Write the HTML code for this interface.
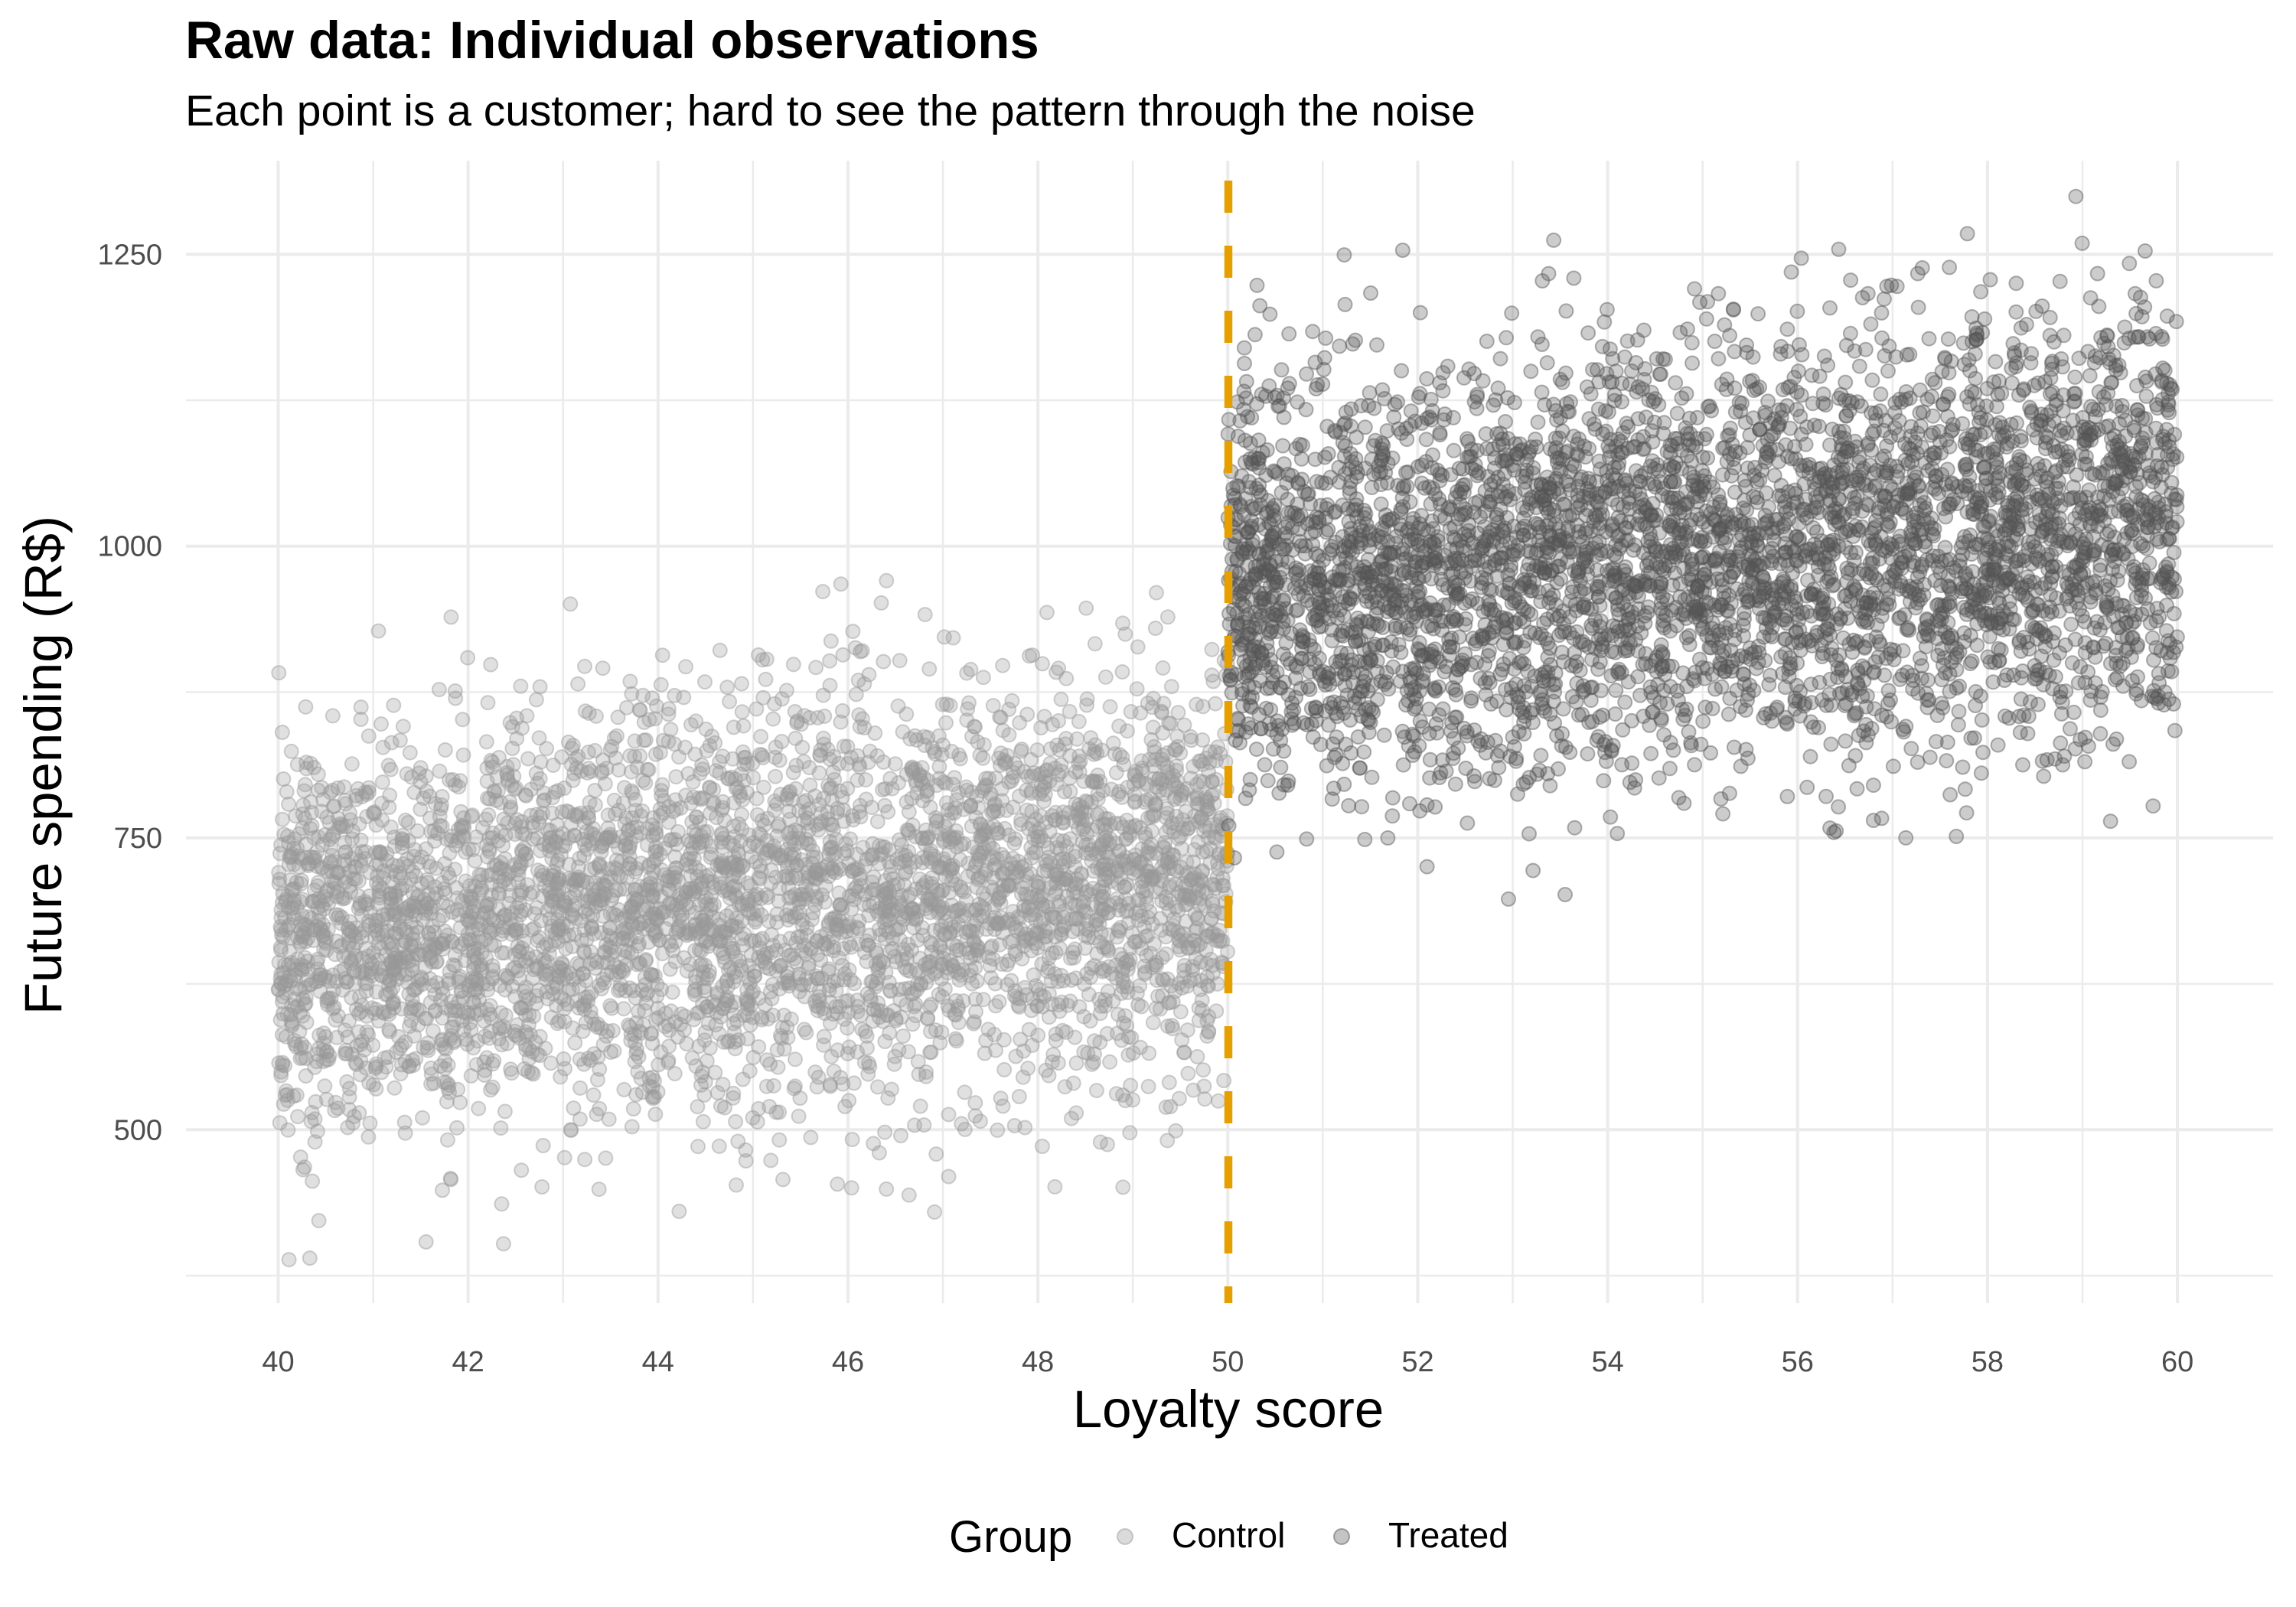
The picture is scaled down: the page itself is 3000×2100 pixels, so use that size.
<!DOCTYPE html>
<html><head><meta charset="utf-8"><style>
body{margin:0;background:#fff}
svg{display:block}
text{font-family:"Liberation Sans",Arial,sans-serif}
</style></head><body>
<svg id="s" width="3000" height="2100" xmlns="http://www.w3.org/2000/svg">
<rect width="3000" height="2100" fill="#fff"/>
<g id="grid"></g>
<g id="pts"></g>
<line x1="1605" y1="236" x2="1605" y2="1703" stroke="#E69F00" stroke-width="10.5" stroke-dasharray="42,43"/>
<text x="242" y="76" font-size="69" font-weight="bold" fill="#000">Raw data: Individual observations</text>
<text x="242" y="164" font-size="57" fill="#000">Each point is a customer; hard to see the pattern through the noise</text>
<g id="yt" font-size="38" fill="#4d4d4d" text-anchor="end"></g>
<g id="xt" font-size="38" fill="#4d4d4d" text-anchor="middle"></g>
<text x="1605" y="1865" font-size="69" text-anchor="middle" fill="#000">Loyalty score</text>
<text transform="translate(80,1000) rotate(-90)" font-size="69" text-anchor="middle" fill="#000">Future spending (R$)</text>
<text x="1240" y="2028" font-size="58" fill="#000">Group</text>
<circle cx="1470" cy="2008" r="10" fill="#999" fill-opacity="0.35" stroke="#999" stroke-opacity="0.5" stroke-width="2"/>
<text x="1531" y="2022" font-size="46" fill="#000">Control</text>
<circle cx="1753" cy="2008" r="10" fill="#555" fill-opacity="0.35" stroke="#555" stroke-opacity="0.5" stroke-width="2"/>
<text x="1814" y="2022" font-size="46" fill="#000">Treated</text>
</svg>
<script>
function X(v){return 363.5+(v-40)*124.08}
function Y(v){return 713.7-(v-1000)*1.5252}
var g=document.getElementById('grid'),h='';
for(var v=40;v<=60;v++){h+='<line x1="'+X(v)+'" x2="'+X(v)+'" y1="210" y2="1703" stroke="#ebebeb" stroke-width="'+(v%2?2.5:4)+'"/>';}
for(var v=375;v<=1250;v+=125){h+='<line x1="243" x2="2970" y1="'+Y(v)+'" y2="'+Y(v)+'" stroke="#ebebeb" stroke-width="'+(v%250?2.5:4)+'"/>';}
g.innerHTML=h;
var yt='';[500,750,1000,1250].forEach(function(v){yt+='<text x="212" y="'+(Y(v)+13)+'">'+v+'</text>'});
document.getElementById('yt').innerHTML=yt;
var xt='';for(var v=40;v<=60;v+=2){xt+='<text x="'+X(v)+'" y="1792">'+v+'</text>'}
document.getElementById('xt').innerHTML=xt;
var seed=12345;function r(){seed=(seed*1103515245+12345)%2147483648;return seed/2147483648}
function n(){var u=r()||1e-9,v=r();var z=Math.sqrt(-2*Math.log(u))*Math.cos(2*Math.PI*v);return Math.max(-3.2,Math.min(3.2,z))}
var p='';
for(var i=0;i<4500;i++){var x=40+r()*10;var y=660+(x-40)*6+n()*85;
p+='<circle cx="'+X(x).toFixed(1)+'" cy="'+Y(y).toFixed(1)+'" r="9" fill="#999" fill-opacity="0.3" stroke="#999" stroke-opacity="0.45" stroke-width="2"/>';}
for(var i=0;i<4500;i++){var x=50+r()*10;var y=960+(x-50)*6.5+n()*88;
p+='<circle cx="'+X(x).toFixed(1)+'" cy="'+Y(y).toFixed(1)+'" r="9" fill="#555" fill-opacity="0.3" stroke="#555" stroke-opacity="0.45" stroke-width="2"/>';}
document.getElementById('pts').innerHTML=p;
</script>
</body></html>
